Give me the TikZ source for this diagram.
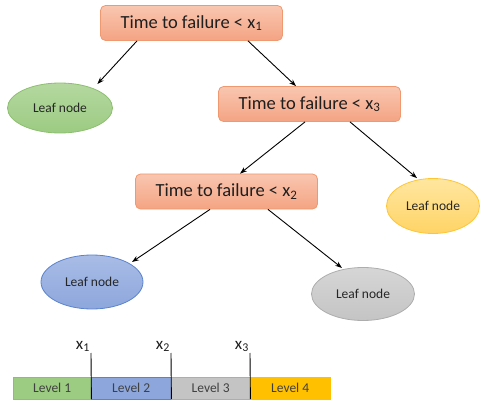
\documentclass[tikz,border=0pt]{standalone}
\usepackage{fontspec}
\setmainfont{Carlito}
\usetikzlibrary{arrows.meta,shapes.geometric}
\definecolor{boxtop}{HTML}{F9C6B0}
\definecolor{boxbot}{HTML}{F4A483}
\definecolor{boxline}{HTML}{F0986F}
\definecolor{grntop}{HTML}{B5D8A0}
\definecolor{grnbot}{HTML}{9CCB82}
\definecolor{grnline}{HTML}{8DBF70}
\definecolor{yeltop}{HTML}{FFE6A0}
\definecolor{yelbot}{HTML}{FFD466}
\definecolor{yelline}{HTML}{FFC533}
\definecolor{blutop}{HTML}{A9BCE6}
\definecolor{blubot}{HTML}{8DA7DC}
\definecolor{bluline}{HTML}{5B82CC}
\definecolor{grytop}{HTML}{D6D6D6}
\definecolor{grybot}{HTML}{C4C4C4}
\definecolor{gryline}{HTML}{ADADAD}
\definecolor{gold}{HTML}{FFC000}
\tikzset{
  split/.style={rectangle, rounded corners=5pt, draw=boxline, line width=0.8pt,
    top color=boxtop, bottom color=boxbot, minimum width=182pt, minimum height=35pt,
    font=\fontsize{18.5}{21}\selectfont, text=black!88},
  leaf/.style={ellipse, line width=0.8pt, font=\fontsize{13.5}{15}\selectfont, text=black!85, inner sep=0pt},
  edge/.style={-{Stealth[length=7pt,width=5pt]}, line width=0.9pt, black},
  level/.style={rectangle, minimum height=22pt, inner sep=0pt, anchor=west,
    font=\fontsize{13.5}{15}\selectfont, text=black!75},
  cut/.style={line width=0.9pt, black},
  cutlabel/.style={anchor=south east, inner sep=1pt, font=\fontsize{17}{19}\selectfont, text=black!88}
}
\begin{document}
\begin{tikzpicture}[x=1pt,y=-1pt]
\useasboundingbox (0,0) rectangle (482,401);

% decision nodes
\node[split] (s1) at (191.5,23) {Time to failure < x\textsubscript{1}};
\node[split] (s3) at (309.5,104) {Time to failure < x\textsubscript{3}};
\node[split] (s2) at (226.5,191.5) {Time to failure < x\textsubscript{2}};

% leaves
\node[leaf, draw=grnline, top color=grntop, bottom color=grnbot,
  minimum width=105pt, minimum height=50pt] (l1) at (60,108) {Leaf node};
\node[leaf, draw=yelline, top color=yeltop, bottom color=yelbot,
  minimum width=93pt, minimum height=55pt] (l4) at (433,206) {Leaf node};
\node[leaf, draw=bluline, top color=blutop, bottom color=blubot,
  minimum width=102pt, minimum height=54pt] (l2) at (92,282) {Leaf node};
\node[leaf, draw=gryline, top color=grytop, bottom color=grybot,
  minimum width=103pt, minimum height=53pt] (l3) at (363,294) {Leaf node};

% branches
\draw[edge] (s1.south -| 137,0) -- (l1.north east |- 0,84) ;
\draw[edge] (s1.south -| 248,0) -- (s3.north -| 296,0);
\draw[edge] (s3.south -| 305,0) -- (s2.north -| 240,0);
\draw[edge] (s3.south -| 350,0) -- (l4.north -| 417,0);
\draw[edge] (s2.south -| 210,0) -- (132,262);
\draw[edge] (s2.south -| 268,0) -- (342,268);

% levels bar
\node[level, fill=grnbot, draw=grnline, minimum width=78pt] (v1) at (13,388) {Level 1};
\node[level, fill=blubot, draw=bluline, minimum width=80pt] (v2) at (91,388) {Level 2};
\node[level, fill=grybot, draw=gryline, minimum width=79pt] (v3) at (171,388) {Level 3};
\node[level, fill=gold, draw=gold, minimum width=80pt] (v4) at (250,388) {Level 4};

% thresholds
\coordinate (t1) at (91,353);
\coordinate (t2) at (171,353);
\coordinate (t3) at (250,353);
\draw[cut] (t1) -- (v1.south east);
\draw[cut] (t2) -- (v2.south east);
\draw[cut] (t3) -- (v3.south east);
\node[cutlabel] (x1) at (t1) {x\textsubscript{1}};
\node[cutlabel] (x2) at (t2) {x\textsubscript{2}};
\node[cutlabel] (x3) at (t3) {x\textsubscript{3}};
\end{tikzpicture}
\end{document}
